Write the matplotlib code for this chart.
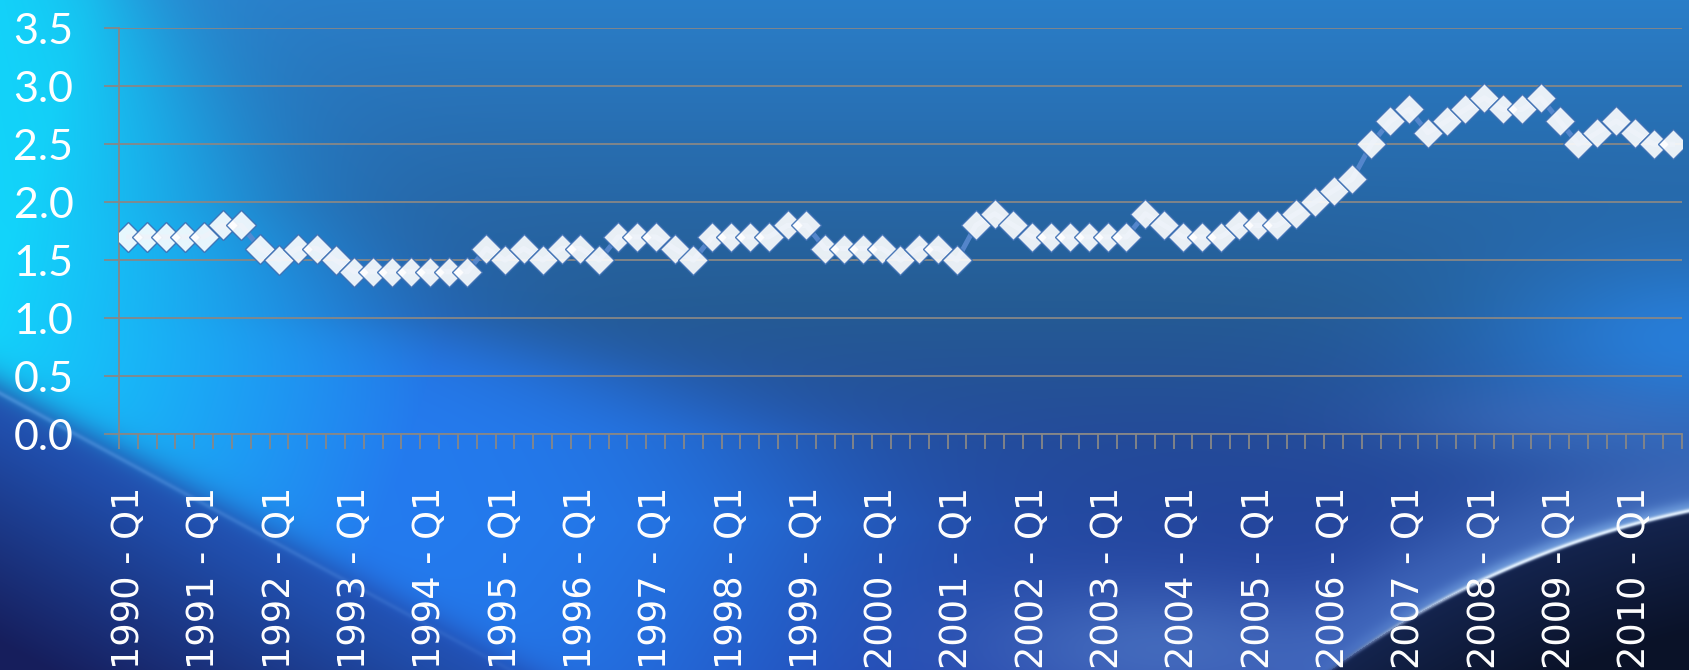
import numpy as np
import matplotlib
matplotlib.use('Agg')
import matplotlib.pyplot as plt
from matplotlib.ticker import FormatStrFormatter

years = list(range(1990, 2011))
values = [1.7, 1.7, 1.7, 1.7,  # 1990
          1.7, 1.8, 1.8, 1.6,  # 1991
          1.5, 1.6, 1.6, 1.5,  # 1992
          1.4, 1.4, 1.4, 1.4,  # 1993
          1.4, 1.4, 1.4, 1.6,  # 1994
          1.5, 1.6, 1.5, 1.6,  # 1995
          1.6, 1.5, 1.7, 1.7,  # 1996
          1.7, 1.6, 1.5, 1.7,  # 1997
          1.7, 1.7, 1.7, 1.8,  # 1998
          1.8, 1.6, 1.6, 1.6,  # 1999
          1.6, 1.5, 1.6, 1.6,  # 2000
          1.5, 1.8, 1.9, 1.8,  # 2001
          1.7, 1.7, 1.7, 1.7,  # 2002
          1.7, 1.7, 1.9, 1.8,  # 2003
          1.7, 1.7, 1.7, 1.8,  # 2004
          1.8, 1.8, 1.9, 2.0,  # 2005
          2.1, 2.2, 2.5, 2.7,  # 2006
          2.8, 2.6, 2.7, 2.8,  # 2007
          2.9, 2.8, 2.8, 2.9,  # 2008
          2.7, 2.5, 2.6, 2.7,  # 2009
          2.6, 2.5, 2.5]       # 2010
yticks = [0.0, 0.5, 1.0, 1.5, 2.0, 2.5, 3.0, 3.5]

W, H = 1690, 670

# ---- blue swoosh background ----
yy, xx = np.mgrid[0:H, 0:W].astype(float)


def sig(d, soft):
    return 1 / (1 + np.exp(-np.clip(d / soft, -50, 50)))


def gauss(cx, cy, sx, sy):
    return np.exp(-((xx - cx) / sx) ** 2 - ((yy - cy) / sy) ** 2)


def blend(img, color, a):
    c = np.array(color, float) / 255
    a = np.clip(a, 0, 1)[..., None]
    return img * (1 - a) + c * a


def lerp(c0, c1, t):
    c0 = np.array(c0, float) / 255
    c1 = np.array(c1, float) / 255
    return c0 + (c1 - c0) * t[..., None]


stops = [0, 120, 300, 440, 670]
cols = np.array([(42, 126, 200), (40, 112, 180), (37, 92, 148),
                 (36, 74, 152), (34, 58, 160)], float) / 255
img = np.stack([np.interp(yy, stops, cols[:, k]) for k in range(3)], axis=-1)

# brighter patch on the right
img = blend(img, (40, 132, 228), 0.85 * gauss(1700, 340, 230, 100))

# streak line (lower edge of the bright sweep)
sx0, sy0, sx1, sy1 = 0, 393, 400, 610
n = np.hypot(sx1 - sx0, sy1 - sy0)
d2 = ((xx - sx0) * (sy1 - sy0) - (yy - sy0) * (sx1 - sx0)) / n

# bright cyan/blue sweep from the top left
xb = np.interp(yy, [0, 200, 320, 376, 430, 520, 670],
               [130, 260, 410, 600, 740, 820, 760])
soft = np.interp(yy, [0, 300, 670], [45, 80, 120])
a_band = sig(xb - xx, soft) * sig(d2, 10)
t = np.clip((xx * 0.9 + yy * 0.3 - 80) / 420, 0, 1)
band = lerp((18, 214, 252), (36, 124, 240), t)
img = img * (1 - a_band[..., None]) + band * a_band[..., None]

# dark lower-left corner
a_dark = sig(-d2, 10)
t2 = np.clip(-d2 / 220, 0, 1)
dark = lerp((34, 86, 185), (22, 30, 92), t2)
img = img * (1 - a_dark[..., None]) + dark * a_dark[..., None]
img = blend(img, (140, 195, 255),
            0.3 * np.exp(-(d2 / 2.5) ** 2) * np.clip(1 - xx / 650, 0, 1))

# soft light patch along the bottom
img = blend(img, (88, 134, 205), 0.6 * gauss(1160, 650, 200, 70))
img = blend(img, (75, 120, 200), 0.4 * gauss(1560, 420, 160, 40))

# planet rim in the bottom right, circle through two edge points
ax0, ay0, ax1, ay1 = 1330, 670, 1690, 510
mx, my = (ax0 + ax1) / 2, (ay0 + ay1) / 2
px, py = ay1 - ay0, ax0 - ax1
pn = np.hypot(px, py)
cx, cy = mx - 900 * px / pn, my - 900 * py / pn
r = np.hypot(ax0 - cx, ay0 - cy)
dc = np.hypot(xx - cx, yy - cy) - r
outside = dc > 0
img = blend(img, (85, 132, 208), np.where(outside, 0.55 * np.exp(-(dc / 70) ** 2), 0)
            * np.clip((xx - 1100) / 300, 0, 1))
inside = sig(-dc, 1.2)
planet = lerp((20, 36, 78), (10, 18, 40), np.clip(-dc / 120, 0, 1))
img = img * (1 - inside[..., None]) + planet * inside[..., None]
img = blend(img, (150, 200, 250), np.where(outside, 0.55 * np.exp(-(dc / 10) ** 2), 0)
            * np.clip((xx - 1300) / 200, 0, 1))
img = blend(img, (225, 240, 255), 0.95 * np.exp(-(dc / 2.2) ** 2)
            * np.clip((xx - 1320) / 180, 0, 1))
img = np.clip(img, 0, 1)

# ---- chart ----
fig = plt.figure(figsize=(W / 100, H / 100), dpi=100)
bg = fig.add_axes([0, 0, 1, 1], zorder=0)
bg.imshow(img, aspect='auto', interpolation='bilinear')
bg.axis('off')

left, right, top, bottom = 119, 1682, 28.3, 434
ax = fig.add_axes([left / W, 1 - bottom / H, (right - left) / W, (bottom - top) / H],
                  zorder=1)
ax.patch.set_alpha(0)

x = np.arange(len(values))
ax.plot(x, values, color='#5a8ad0', lw=3.6, alpha=0.9,
        marker='D', ms=15.5, mfc='white', mec='#3d6fb3', mew=1.0,
        solid_joinstyle='round', zorder=3)

grey = '#878787'
ax.set_xlim(-0.5, len(values) - 0.5)
ax.set_ylim(0, 3.5)
ax.set_yticks(yticks)
ax.yaxis.set_major_formatter(FormatStrFormatter('%.1f'))
ax.yaxis.grid(True, color=grey, lw=1.3)
ax.set_axisbelow(True)

ax.set_xticks(np.arange(-0.5, len(values), 1))
ax.set_xticklabels([])
ax.set_xticks(np.arange(0, len(values), 4), minor=True)
ax.set_xticklabels([f'{yr} - Q1' for yr in years], minor=True,
                   rotation=90, fontsize=26.5, color='white',
                   family='DejaVu Sans')
ax.tick_params(axis='x', which='major', length=10.8, width=1.3, color=grey)
ax.tick_params(axis='x', which='minor', length=0, pad=38)
ax.tick_params(axis='y', length=10.8, width=1.3, color=grey, pad=22,
               labelcolor='white')
for lab in ax.get_yticklabels():
    lab.set_family(['Lato', 'DejaVu Sans'])
    lab.set_fontsize(31)

for s in ['top', 'right']:
    ax.spines[s].set_visible(False)
for s in ['left', 'bottom']:
    ax.spines[s].set_color(grey)
    ax.spines[s].set_linewidth(1.3)

fig.savefig('out.png', dpi=100)
